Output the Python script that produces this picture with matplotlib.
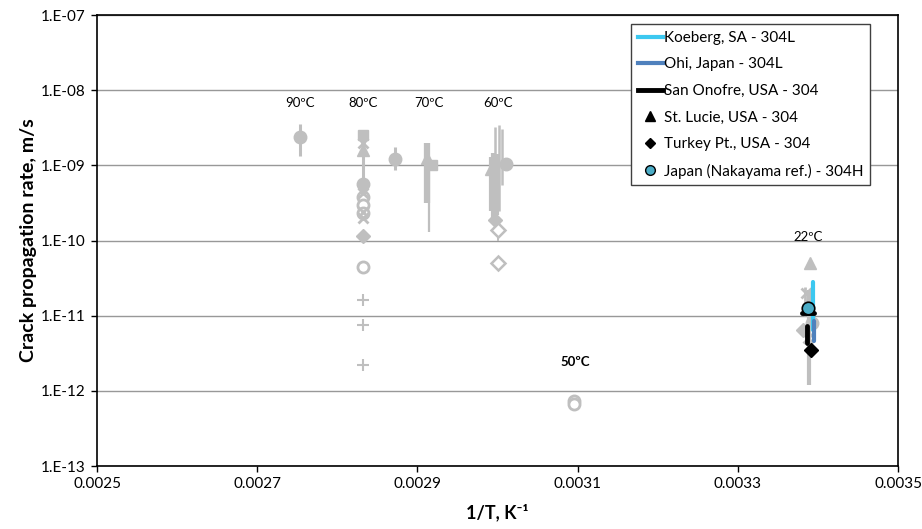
import matplotlib
matplotlib.use('Agg')
import matplotlib.pyplot as plt
from matplotlib.lines import Line2D

plt.rcParams['font.family'] = ['Lato', 'DejaVu Sans']

# ---- reference data (grey), 1/T in K^-1, rate in m/s ----
# vertical scatter bars: x, low, high, linewidth
bar_x = [0.002754, 0.0028725, 0.0028317, 0.0028317, 0.0029125, 0.0029150,
         0.0029913, 0.0029950, 0.0029988, 0.0029975, 0.0030013, 0.0030055,
         0.0030000, 0.0033890, 0.0033845]
bar_lo = [1.33e-9, 8.7e-10, 5.5e-10, 2.0e-10, 3.2e-10, 1.3e-10,
          2.5e-10, 2.0e-10, 2.2e-10, 3.0e-10, 2.5e-10, 5.5e-10,
          1.0e-10, 1.2e-12, 1.0e-11]
bar_hi = [3.55e-9, 1.75e-9, 2.95e-9, 5.5e-10, 2.0e-9, 1.2e-9,
          1.3e-9, 1.45e-9, 1.4e-9, 3.2e-9, 3.4e-9, 3.0e-9,
          2.0e-10, 2.2e-11, 2.4e-11]
bar_lw = [2.2, 2.2, 2.2, 4.5, 4.5, 1.6,
          3.0, 3.0, 3.0, 1.8, 1.8, 1.8,
          1.4, 3.0, 2.0]

# grey markers
g_dot_x = [0.002754, 0.0028725, 0.0028317, 0.0030100, 0.0033930]
g_dot_y = [2.4e-9, 1.2e-9, 5.6e-10, 1.03e-9, 8.0e-12]
g_ring_x = [0.0028317, 0.0028317, 0.0028317, 0.0028317, 0.0030960, 0.0030960]
g_ring_y = [3.8e-10, 3.0e-10, 2.3e-10, 4.5e-11, 7.3e-13, 6.7e-13]
g_tri_x = [0.0028317, 0.0029125, 0.0029913, 0.0033900]
g_tri_y = [1.6e-9, 1.26e-9, 8.9e-10, 5.0e-11]
g_sq_x = [0.0028317, 0.0029188]
g_sq_y = [2.5e-9, 1.0e-9]
g_x_x = [0.0028317, 0.0028317, 0.0028317, 0.0028317, 0.0033850, 0.0033880]
g_x_y = [2.0e-9, 4.3e-10, 2.4e-10, 2.0e-10, 2.0e-11, 5.0e-12]
g_dia_x = [0.0028317, 0.0029963, 0.0033820]
g_dia_y = [1.15e-10, 1.9e-10, 6.5e-12]
g_odia_x = [0.0030000, 0.0030000]
g_odia_y = [1.4e-10, 5.0e-11]
g_plus_x = [0.0028317, 0.0028317, 0.0028317]
g_plus_y = [1.6e-11, 7.6e-12, 2.2e-12]

# ---- plant data at 22 C ----
koeberg_x = [0.0033934, 0.0033934]
koeberg_y = [2.8e-11, 6.5e-12]
ohi_x = [0.0033956, 0.0033956]
ohi_y = [8.5e-12, 4.6e-12]
onofre_x = [0.0033800, 0.0033950, float('nan'), 0.0033863, 0.0033863]
onofre_y = [1.09e-11, 1.09e-11, float('nan'), 7.3e-12, 4.3e-12]
turkey_x = [0.0033920]
turkey_y = [3.5e-12]
nakayama_x = [0.0033871]
nakayama_y = [1.28e-11]

temp_labels = ['90ºC', '80ºC', '70ºC', '60ºC']
temp_label_x = [0.002754, 0.0028317, 0.0029142, 0.0030000]
temp_label_y = 6.8e-9

grey = '#BFBFBF'

fig = plt.figure(figsize=(9.22, 5.29), dpi=100)
ax = fig.add_axes([97 / 922, 63 / 529, 801 / 922, 451 / 529])

for x, lo, hi, lw in zip(bar_x, bar_lo, bar_hi, bar_lw):
    ax.plot([x, x], [lo, hi], color=grey, lw=lw, solid_capstyle='butt', zorder=2)

ax.plot(g_dot_x, g_dot_y, 'o', ms=9, color=grey, zorder=3)
ax.plot(g_ring_x, g_ring_y, 'o', ms=8, mfc='white', mec=grey, mew=2, zorder=3)
ax.plot(g_tri_x, g_tri_y, '^', ms=9, color=grey, zorder=3)
ax.plot(g_sq_x, g_sq_y, 's', ms=7, color=grey, zorder=3)
ax.plot(g_x_x, g_x_y, 'x', ms=7, mec=grey, mew=2, zorder=3)
ax.plot(g_dia_x, g_dia_y, 'D', ms=7, color=grey, zorder=3)
ax.plot(g_odia_x, g_odia_y, 'D', ms=7, mfc='white', mec=grey, mew=1.8, zorder=3)
ax.plot(g_plus_x, g_plus_y, '+', ms=9, mec=grey, mew=1.5, zorder=3)

ax.plot(koeberg_x, koeberg_y, color='#3CC8F0', lw=3, solid_capstyle='round', zorder=4)
ax.plot(ohi_x, ohi_y, color='#4F81BD', lw=3, solid_capstyle='round', zorder=4)
ax.plot(onofre_x, onofre_y, color='black', lw=3.5, solid_capstyle='round', zorder=5)
ax.plot(turkey_x, turkey_y, 'D', ms=7, color='black', zorder=6)
ax.plot(nakayama_x, nakayama_y, 'o', ms=9, mfc='#4BACC6', mec='black', mew=1.2, zorder=6)

for t, x in zip(temp_labels, temp_label_x):
    ax.text(x, temp_label_y, t, ha='center', va='center', fontsize=9.5)
ax.text(0.0030975, 2.42e-12, '50ºC', ha='center', va='center', fontsize=9.5, fontweight='bold')
ax.text(0.0033881, 1.11e-10, '22ºC', ha='center', va='center', fontsize=9.5)

ax.set_yscale('log')
ax.set_xlim(0.0025, 0.0035)
ax.set_ylim(1e-13, 1e-7)
ax.set_xticks([0.0025, 0.0027, 0.0029, 0.0031, 0.0033, 0.0035])
ax.set_xticklabels(['0.0025', '0.0027', '0.0029', '0.0031', '0.0033', '0.0035'])
yt = [1e-13, 1e-12, 1e-11, 1e-10, 1e-9, 1e-8, 1e-7]
ax.set_yticks(yt)
ax.set_yticklabels(['1.E-13', '1.E-12', '1.E-11', '1.E-10', '1.E-09', '1.E-08', '1.E-07'])
ax.minorticks_off()
ax.tick_params(direction='out', length=4, width=1, labelsize=11, colors='black', pad=4)
ax.grid(axis='y', color='#989898', lw=1)
ax.set_axisbelow(True)
for s in ax.spines.values():
    s.set_color('black')
    s.set_linewidth(1.2)

ax.set_ylabel('Crack propagation rate, m/s', fontsize=14, fontweight='bold', labelpad=3)
ax.set_xlabel('1/T, K⁻¹', fontsize=13, fontweight='bold', labelpad=9)

handles = [
    Line2D([], [], color='#3CC8F0', lw=3),
    Line2D([], [], color='#4F81BD', lw=3),
    Line2D([], [], color='black', lw=3.5),
    Line2D([], [], ls='none', marker='^', ms=7, color='black'),
    Line2D([], [], ls='none', marker='D', ms=5, color='black'),
    Line2D([], [], ls='none', marker='o', ms=7, mfc='#4BACC6', mec='black'),
]
labels = ['Koeberg, SA - 304L', 'Ohi, Japan - 304L', 'San Onofre, USA - 304',
          'St. Lucie, USA - 304', 'Turkey Pt., USA - 304',
          'Japan (Nakayama ref.) - 304H']
leg = ax.legend(handles, labels, loc='upper left', bbox_to_anchor=(0.667, 0.980),
                borderaxespad=0, fontsize=11, frameon=True, fancybox=False,
                edgecolor='#404040', framealpha=1, labelspacing=0.82,
                handlelength=1.6, handletextpad=0.1, borderpad=0.45)
leg.get_frame().set_linewidth(1)

fig.savefig('out.png', dpi=100)
